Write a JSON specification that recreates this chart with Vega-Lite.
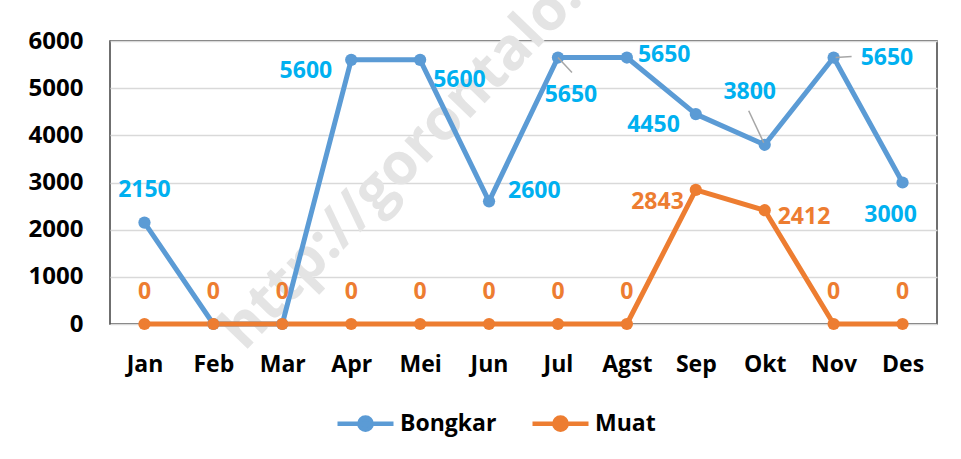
{
  "$schema": "https://vega.github.io/schema/vega-lite/v6.json",
  "autosize": {"type": "none"},
  "width": 827,
  "height": 283,
  "padding": {"left": 110, "top": 41, "right": 24, "bottom": 135},
  "background": "white",
  "config": {
    "font": "Open Sans",
    "view": {"stroke": "#404040", "strokeWidth": 1.5},
    "axis": {"labelFont": "Open Sans", "labelFontWeight": "bold", "labelFontSize": 23, "labelColor": "#000000", "ticks": false, "domain": false, "title": null}
  },
  "data": {
    "values": [
      {"month": "Jan", "series": "Bongkar", "value": 2150},
      {"month": "Feb", "series": "Bongkar", "value": 0},
      {"month": "Mar", "series": "Bongkar", "value": 0},
      {"month": "Apr", "series": "Bongkar", "value": 5600},
      {"month": "Mei", "series": "Bongkar", "value": 5600},
      {"month": "Jun", "series": "Bongkar", "value": 2600},
      {"month": "Jul", "series": "Bongkar", "value": 5650},
      {"month": "Agst", "series": "Bongkar", "value": 5650},
      {"month": "Sep", "series": "Bongkar", "value": 4450},
      {"month": "Okt", "series": "Bongkar", "value": 3800},
      {"month": "Nov", "series": "Bongkar", "value": 5650},
      {"month": "Des", "series": "Bongkar", "value": 3000},
      {"month": "Jan", "series": "Muat", "value": 0},
      {"month": "Feb", "series": "Muat", "value": 0},
      {"month": "Mar", "series": "Muat", "value": 0},
      {"month": "Apr", "series": "Muat", "value": 0},
      {"month": "Mei", "series": "Muat", "value": 0},
      {"month": "Jun", "series": "Muat", "value": 0},
      {"month": "Jul", "series": "Muat", "value": 0},
      {"month": "Agst", "series": "Muat", "value": 0},
      {"month": "Sep", "series": "Muat", "value": 2843},
      {"month": "Okt", "series": "Muat", "value": 2412},
      {"month": "Nov", "series": "Muat", "value": 0},
      {"month": "Des", "series": "Muat", "value": 0}
    ]
  },
  "encoding": {
    "x": {"field": "month", "type": "nominal", "sort": ["Jan","Feb","Mar","Apr","Mei","Jun","Jul","Agst","Sep","Okt","Nov","Des"],
          "scale": {"type": "point", "padding": 0.5},
          "axis": {"labelAngle": 0, "labelPadding": 29, "grid": false}},
    "y": {"field": "value", "type": "quantitative",
          "scale": {"domain": [0, 6000], "nice": false, "zero": true},
          "axis": {"values": [0,1000,2000,3000,4000,5000,6000], "format": "d", "labelFontSize": 24, "labelPadding": 27, "grid": true, "gridColor": "#d9d9d9", "gridWidth": 1.5}}
  },
  "layer": [
    {
      "transform": [{"filter": "datum.series == 'Muat' && datum.month == 'Feb'"}],
      "mark": {"type": "text", "text": "http://gorontalo.", "angle": 314, "align": "left", "baseline": "middle", "fontSize": 58, "fontWeight": "bold", "font": "Open Sans", "color": "#e4e4e4", "dx": 0, "dy": 0, "xOffset": 19, "yOffset": 9},
      "encoding": {"y": {"datum": -150, "type": "quantitative"}}
    },
    {
      "mark": {"type": "line", "strokeWidth": 5, "strokeCap": "round", "strokeJoin": "round"},
      "encoding": {
        "color": {"field": "series", "type": "nominal",
          "scale": {"domain": ["Bongkar", "Muat"], "range": ["#5B9BD5", "#ED7D31"]},
          "legend": {"title": null, "orient": "none", "direction": "horizontal", "legendX": 225, "legendY": 352,
            "symbolType": "M-1,0H1M0.22,0A0.22,0.22,0,1,1,-0.22,0A0.22,0.22,0,1,1,0.22,0Z",
            "symbolSize": 3136, "symbolStrokeWidth": 4.5, "labelFont": "Open Sans", "labelFontWeight": "bold", "labelFontSize": 23, "labelColor": "#000000",
            "labelOffset": 4, "columnPadding": 26, "padding": 0,
            "encode": {"symbols": {"update": {"fill": {"scale": "color", "field": "value"}, "stroke": {"scale": "color", "field": "value"}, "opacity": {"value": 1}}}}}
        }
      }
    },
    {
      "mark": {"type": "point", "filled": true, "size": 150, "opacity": 1},
      "encoding": {"color": {"field": "series", "type": "nominal"}}
    },
    {
      "transform": [{"filter": "(datum.series == 'Bongkar' && datum.month == 'Jul')"}],
      "mark": {"type": "rule", "color": "#a6a6a6", "strokeWidth": 1.5, "xOffset": 0, "yOffset": 0, "x2Offset": 14, "y2Offset": 15},
      "encoding": {"x2": {"field": "month"}, "y2": {"field": "value"}}
    },
    {
      "transform": [{"filter": "(datum.series == 'Bongkar' && datum.month == 'Okt')"}],
      "mark": {"type": "rule", "color": "#a6a6a6", "strokeWidth": 1.5, "xOffset": -16, "yOffset": -34, "x2Offset": -1, "y2Offset": -2},
      "encoding": {"x2": {"field": "month"}, "y2": {"field": "value"}}
    },
    {
      "transform": [{"filter": "(datum.series == 'Bongkar' && datum.month == 'Nov')"}],
      "mark": {"type": "rule", "color": "#a6a6a6", "strokeWidth": 1.5, "xOffset": 2, "yOffset": 0, "x2Offset": 18, "y2Offset": -1},
      "encoding": {"x2": {"field": "month"}, "y2": {"field": "value"}}
    },
    {
      "transform": [{"filter": "datum.series == 'Bongkar' && datum.month == 'Jan'"}],
      "mark": {"type": "text", "align": "center", "baseline": "middle", "dx": 0, "dy": -33, "fontSize": 23, "fontWeight": "bold", "color": "#00B0F0"},
      "encoding": {"text": {"field": "value"}}
    },
    {
      "transform": [{"filter": "datum.series == 'Bongkar' && datum.month == 'Apr'"}],
      "mark": {"type": "text", "align": "right", "baseline": "middle", "dx": -19, "dy": 11, "fontSize": 23, "fontWeight": "bold", "color": "#00B0F0"},
      "encoding": {"text": {"field": "value"}}
    },
    {
      "transform": [{"filter": "datum.series == 'Bongkar' && datum.month == 'Mei'"}],
      "mark": {"type": "text", "align": "left", "baseline": "middle", "dx": 13, "dy": 20, "fontSize": 23, "fontWeight": "bold", "color": "#00B0F0"},
      "encoding": {"text": {"field": "value"}}
    },
    {
      "transform": [{"filter": "datum.series == 'Bongkar' && datum.month == 'Jun'"}],
      "mark": {"type": "text", "align": "left", "baseline": "middle", "dx": 19, "dy": -10, "fontSize": 23, "fontWeight": "bold", "color": "#00B0F0"},
      "encoding": {"text": {"field": "value"}}
    },
    {
      "transform": [{"filter": "datum.series == 'Bongkar' && datum.month == 'Jul'"}],
      "mark": {"type": "text", "align": "center", "baseline": "middle", "dx": 13, "dy": 37, "fontSize": 23, "fontWeight": "bold", "color": "#00B0F0"},
      "encoding": {"text": {"field": "value"}}
    },
    {
      "transform": [{"filter": "datum.series == 'Bongkar' && datum.month == 'Agst'"}],
      "mark": {"type": "text", "align": "left", "baseline": "middle", "dx": 11, "dy": -3, "fontSize": 23, "fontWeight": "bold", "color": "#00B0F0"},
      "encoding": {"text": {"field": "value"}}
    },
    {
      "transform": [{"filter": "datum.series == 'Bongkar' && datum.month == 'Sep'"}],
      "mark": {"type": "text", "align": "right", "baseline": "middle", "dx": -16, "dy": 11, "fontSize": 23, "fontWeight": "bold", "color": "#00B0F0"},
      "encoding": {"text": {"field": "value"}}
    },
    {
      "transform": [{"filter": "datum.series == 'Bongkar' && datum.month == 'Okt'"}],
      "mark": {"type": "text", "align": "center", "baseline": "middle", "dx": -15, "dy": -53, "fontSize": 23, "fontWeight": "bold", "color": "#00B0F0"},
      "encoding": {"text": {"field": "value"}}
    },
    {
      "transform": [{"filter": "datum.series == 'Bongkar' && datum.month == 'Nov'"}],
      "mark": {"type": "text", "align": "left", "baseline": "middle", "dx": 27, "dy": 0, "fontSize": 23, "fontWeight": "bold", "color": "#00B0F0"},
      "encoding": {"text": {"field": "value"}}
    },
    {
      "transform": [{"filter": "datum.series == 'Bongkar' && datum.month == 'Des'"}],
      "mark": {"type": "text", "align": "center", "baseline": "middle", "dx": -12, "dy": 32, "fontSize": 23, "fontWeight": "bold", "color": "#00B0F0"},
      "encoding": {"text": {"field": "value"}}
    },
    {
      "transform": [{"filter": "datum.series == 'Muat' && datum.month == 'Sep'"}],
      "mark": {"type": "text", "align": "right", "baseline": "middle", "dx": -12, "dy": 12, "fontSize": 23, "fontWeight": "bold", "color": "#ED7D31"},
      "encoding": {"text": {"field": "value"}}
    },
    {
      "transform": [{"filter": "datum.series == 'Muat' && datum.month == 'Okt'"}],
      "mark": {"type": "text", "align": "left", "baseline": "middle", "dx": 13, "dy": 7, "fontSize": 23, "fontWeight": "bold", "color": "#ED7D31"},
      "encoding": {"text": {"field": "value"}}
    },
    {
      "transform": [{"filter": "datum.series == 'Muat' && datum.value == 0"}],
      "mark": {"type": "text", "align": "center", "baseline": "middle", "dx": 0, "dy": -32, "fontSize": 23, "fontWeight": "bold", "color": "#ED7D31"},
      "encoding": {"text": {"field": "value"}}
    }
  ]
}
